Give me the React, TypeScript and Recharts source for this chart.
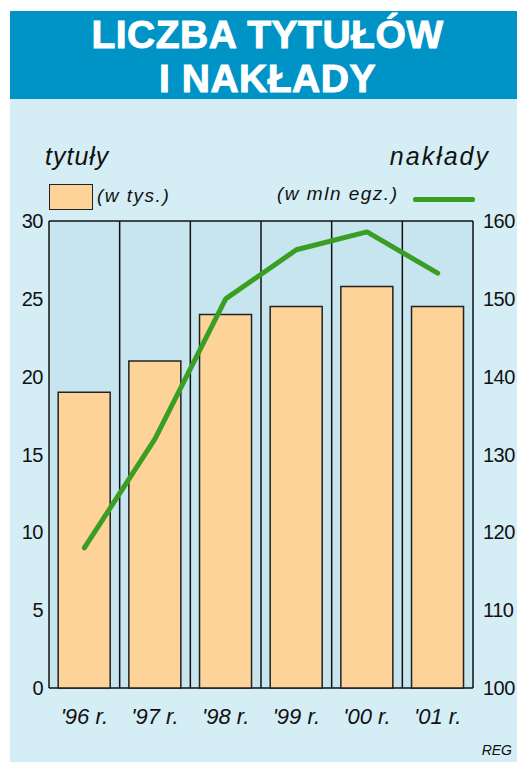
import {
  Bar,
  CartesianGrid,
  ComposedChart,
  Line,
  XAxis,
  YAxis,
} from "recharts";

const years = ["'96 r.", "'97 r.", "'98 r.", "'99 r.", "'00 r.", "'01 r."];
const titles = [19, 21, 24, 24.5, 25.8, 24.5]; // tys. tytułów
const copies = [118, 132, 150, 156.3, 158.6, 153.3]; // mln egz.
const leftTicks = [0, 5, 10, 15, 20, 25, 30];
const rightTicks = [100, 110, 120, 130, 140, 150, 160];

const data = years.map((year, i) => ({ year, titles: titles[i], copies: copies[i] }));

const SANS = "'Liberation Sans', Arial, sans-serif";

const HEADER = "#0093c6";
const PANEL = "#d5edf5";
const PLOT = "#c6e5ef";
const BAR = "#fed399";
const GREEN = "#3a9e23";

export default function App() {
  return (
    <div
      style={{
        position: "absolute",
        left: 0,
        top: 0,
        width: 517,
        height: 762,
        background: "#fff",
        overflow: "hidden",
      }}
    >
      <div style={{ position: "absolute", left: 10, top: 99, width: 507, height: 663, background: PANEL }} />
      <div
        style={{
          position: "absolute",
          left: 10,
          top: 11,
          width: 507,
          height: 88,
          background: HEADER,
          color: "#fff",
          fontFamily: SANS,
          fontWeight: 700,
          fontSize: 39,
          lineHeight: "44px",
          textAlign: "center",
          paddingTop: 2,
          boxSizing: "border-box",
          WebkitTextStroke: "1px #fff",
          letterSpacing: 0.5,
        }}
      >
        <div style={{ marginLeft: 8 }}>LICZBA TYTUŁÓW</div>
        <div style={{ marginLeft: 8 }}>I NAKŁADY</div>
      </div>

      <ComposedChart
        width={517}
        height={762}
        data={data}
        margin={{ top: 221, right: 0, left: 0, bottom: 0 }}
        barCategoryGap="13%"
        style={{ position: "absolute", left: 0, top: 0 }}
      >
        <CartesianGrid
          stroke="#111"
          strokeWidth={1.5}
          fill={PLOT}
          fillOpacity={1}
          verticalCoordinatesGenerator={({ offset }: any) =>
            years.map((_, i) => offset.left + (i * offset.width) / years.length).concat(offset.left + offset.width)
          }
        />
        <XAxis
          dataKey="year"
          height={74}
          axisLine={false}
          tickLine={false}
          tickMargin={14}
          tick={{ fill: "#111", fontSize: 22, fontStyle: "italic", fontFamily: SANS }}
        />
        <YAxis
          yAxisId="left"
          domain={[0, 30]}
          ticks={leftTicks}
          width={49}
          axisLine={false}
          tickLine={false}
          tickSize={4}
          tickMargin={2}
          tick={{ fill: "#111", fontSize: 20, fontFamily: SANS, letterSpacing: -0.5 }}
        />
        <YAxis
          yAxisId="right"
          orientation="right"
          domain={[100, 160]}
          ticks={rightTicks}
          width={44}
          axisLine={false}
          tickLine={false}
          tickSize={8}
          tickMargin={2}
          tick={{ fill: "#111", fontSize: 20, fontFamily: SANS, letterSpacing: -0.5 }}
        />
        <Bar yAxisId="left" dataKey="titles" fill={BAR} stroke="#222" strokeWidth={1.5} isAnimationActive={false} />
        <Line
          yAxisId="right"
          dataKey="copies"
          type="linear"
          stroke={GREEN}
          strokeWidth={5}
          strokeLinecap="round"
          strokeLinejoin="round"
          dot={false}
          isAnimationActive={false}
        />
      </ComposedChart>

      {/* legend / axis captions */}
      <div
        style={{
          position: "absolute",
          left: 45,
          top: 142,
          fontFamily: SANS,
          fontStyle: "italic",
          fontSize: 25,
          letterSpacing: 1,
          color: "#111",
        }}
      >
        tytuły
      </div>
      <div
        style={{
          position: "absolute",
          right: 27,
          top: 142,
          fontFamily: SANS,
          fontStyle: "italic",
          fontSize: 25,
          letterSpacing: 2,
          color: "#111",
        }}
      >
        nakłady
      </div>
      <div
        style={{
          position: "absolute",
          left: 49,
          top: 184,
          width: 42,
          height: 24,
          background: BAR,
          border: "1.5px solid #222",
        }}
      />
      <div
        style={{
          position: "absolute",
          left: 97,
          top: 185,
          fontFamily: SANS,
          fontStyle: "italic",
          fontSize: 19,
          letterSpacing: 1.5,
          color: "#111",
        }}
      >
        (w tys.)
      </div>
      <div
        style={{
          position: "absolute",
          left: 277,
          top: 183,
          fontFamily: SANS,
          fontStyle: "italic",
          fontSize: 19,
          letterSpacing: 1.5,
          color: "#111",
        }}
      >
        (w mln egz.)
      </div>
      <div
        style={{
          position: "absolute",
          left: 413,
          top: 197,
          width: 62,
          height: 5,
          borderRadius: 2,
          background: GREEN,
        }}
      />
      <div
        style={{
          position: "absolute",
          right: 5,
          top: 742,
          fontFamily: SANS,
          fontStyle: "italic",
          fontSize: 14,
          color: "#111",
        }}
      >
        REG
      </div>
    </div>
  );
}
